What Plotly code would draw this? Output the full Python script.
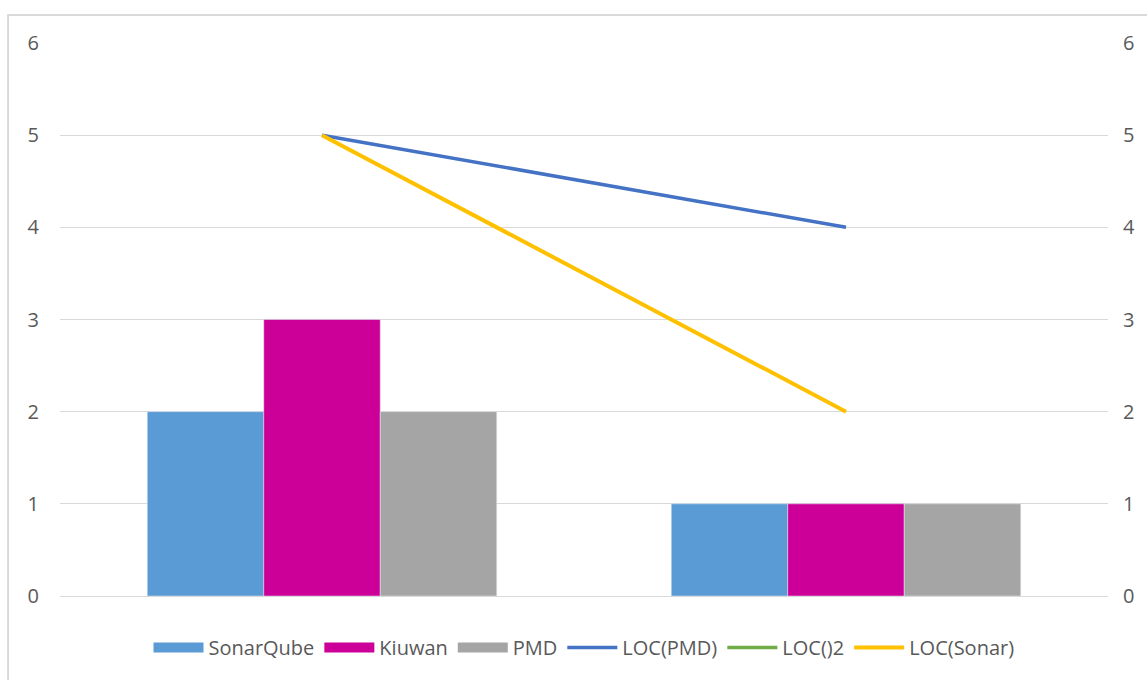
import plotly.graph_objects as go

categories = ["1", "2"]
sonarqube = [2, 1]
kiuwan = [3, 1]
pmd = [2, 1]
loc_pmd = [5, 4]
loc_2 = [None, None]
loc_sonar = [5, 2]
ticks = [0, 1, 2, 3, 4, 5, 6]

W, H = 1147, 680
L, R, T, B = 60, 37, 43, 84
pw, ph = W - L - R, H - T - B

bars = [("SonarQube", sonarqube, "#5B9BD5"), ("Kiuwan", kiuwan, "#CC0099"), ("PMD", pmd, "#A5A5A5")]

fig = go.Figure()
for name, vals, col in bars:
    fig.add_trace(go.Bar(x=categories, y=vals, name=name, marker_color=col,
                         showlegend=False, legendgroup=name))
for name, vals, col in bars:
    # legend swatch as a wide rectangle
    fig.add_trace(go.Scatter(x=[None], y=[None], name=name, mode="lines",
                             line=dict(color=col, width=15), legendgroup=name))
fig.add_trace(go.Scatter(x=categories, y=loc_pmd, name="LOC(PMD)", mode="lines",
                         line=dict(color="#4472C4", width=3.5), yaxis="y2"))
fig.add_trace(go.Scatter(x=categories, y=loc_2, name="LOC()2", mode="lines",
                         line=dict(color="#70AD47", width=3.5), yaxis="y2"))
fig.add_trace(go.Scatter(x=categories, y=loc_sonar, name="LOC(Sonar)", mode="lines",
                         line=dict(color="#FFC000", width=4), yaxis="y2"))

font = dict(family="Open Sans, Liberation Sans, sans-serif", size=19, color="#595959")
fig.update_layout(
    width=W, height=H,
    margin=dict(l=L, r=R, t=T, b=B),
    paper_bgcolor="white", plot_bgcolor="white",
    barmode="group", bargap=0.333, bargroupgap=0,
    font=font,
    showlegend=True,
    legend=dict(orientation="h", x=0.5, xanchor="center", y=-0.058, yanchor="top",
                font=dict(size=20, color="#595959"), itemwidth=50,
                traceorder="normal"),
    xaxis=dict(showticklabels=False, showgrid=False, zeroline=False, showline=False,
               ticks=""),
    yaxis=dict(range=[0, 6], tickvals=ticks, showgrid=True, gridcolor="#D9D9D9",
               gridwidth=1, zeroline=True, zerolinecolor="#D9D9D9", zerolinewidth=1,
               showline=False, ticks="", ticklabelstandoff=20,
               tickfont=dict(size=20, color="#595959")),
    yaxis2=dict(range=[0, 6], tickvals=ticks, overlaying="y", side="right",
                showgrid=False, zeroline=False, showline=False, ticks="",
                ticklabelstandoff=14, tickfont=dict(size=20, color="#595959")),
)

fig.add_shape(type="rect", xref="paper", yref="paper",
              x0=(8 - L) / pw, x1=1.2, y0=-0.5, y1=1 + (T - 15) / ph,
              line=dict(color="#D9D9D9", width=2), fillcolor="rgba(0,0,0,0)", layer="below")

fig.write_html("out.html")
